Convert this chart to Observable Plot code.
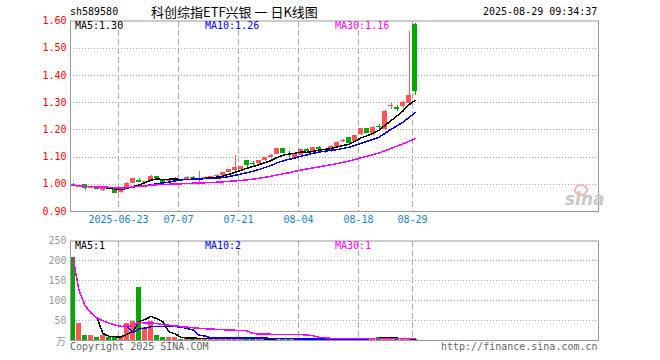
<!DOCTYPE html>
<html><head><meta charset="utf-8">
<script src="https://cdn.jsdelivr.net/npm/d3@7"></script>
<script src="https://cdn.jsdelivr.net/npm/@observablehq/plot@0.6"></script>
<style>
body{margin:0;background:#fff;}
#wrap{position:relative;width:660px;height:360px;overflow:hidden;font-family:"DejaVu Sans Mono",monospace;}
#wrap svg{position:absolute;left:0;}
#wrap svg g[aria-label="line"] path, #wrap svg g[aria-label="rule"] line, #wrap svg g[aria-label="rect"] rect, #wrap svg g[aria-label="frame"] rect{shape-rendering:crispEdges;}
.t{position:absolute;white-space:nowrap;font-size:10px;line-height:10px;font-family:"DejaVu Sans Mono",monospace;}
</style></head><body><div id="wrap"></div>
<script>
const dates = ["2025-06-11","2025-06-12","2025-06-13","2025-06-16","2025-06-17","2025-06-18","2025-06-19","2025-06-20","2025-06-23","2025-06-24",
"2025-06-25","2025-06-26","2025-06-27","2025-06-30","2025-07-01","2025-07-02","2025-07-03","2025-07-04","2025-07-07","2025-07-08",
"2025-07-09","2025-07-10","2025-07-11","2025-07-14","2025-07-15","2025-07-16","2025-07-17","2025-07-18","2025-07-21","2025-07-22",
"2025-07-23","2025-07-24","2025-07-25","2025-07-28","2025-07-29","2025-07-30","2025-07-31","2025-08-01","2025-08-04","2025-08-05",
"2025-08-06","2025-08-07","2025-08-08","2025-08-11","2025-08-12","2025-08-13","2025-08-14","2025-08-15","2025-08-18","2025-08-19",
"2025-08-20","2025-08-21","2025-08-22","2025-08-25","2025-08-26","2025-08-27","2025-08-28","2025-08-29"];
const open = [0.998,0.990,0.998,0.986,0.987,0.979,0.986,0.983,0.971,0.982,
1.004,1.014,1.006,1.012,1.027,1.018,1.012,1.016,1.015,1.014,
1.026,1.016,1.023,1.025,1.030,1.034,1.044,1.049,1.053,1.086,
1.076,1.076,1.087,1.100,1.110,1.130,1.111,1.096,1.104,1.126,
1.122,1.134,1.124,1.124,1.136,1.158,1.171,1.158,1.183,1.205,
1.184,1.213,1.203,1.286,1.281,1.286,1.298,1.588];
const close = [0.997,0.994,0.987,0.990,0.984,0.986,0.985,0.970,0.980,1.004,
1.022,1.012,1.010,1.030,1.024,1.012,1.016,1.017,1.014,1.026,
1.024,1.019,1.026,1.028,1.034,1.044,1.053,1.061,1.065,1.073,
1.075,1.086,1.097,1.104,1.130,1.116,1.110,1.111,1.126,1.124,
1.134,1.132,1.126,1.140,1.154,1.161,1.155,1.178,1.205,1.190,
1.210,1.211,1.268,1.289,1.278,1.300,1.328,1.343];
const high = [1.002,0.996,0.999,0.991,0.988,0.987,0.989,0.984,0.981,1.005,
1.023,1.022,1.012,1.031,1.028,1.019,1.018,1.025,1.017,1.027,
1.030,1.046,1.028,1.030,1.036,1.045,1.054,1.105,1.067,1.087,
1.082,1.087,1.099,1.108,1.132,1.132,1.120,1.114,1.128,1.130,
1.136,1.140,1.133,1.141,1.156,1.166,1.173,1.181,1.206,1.206,
1.214,1.220,1.271,1.298,1.290,1.306,1.561,1.590];
const low = [0.994,0.988,0.979,0.983,0.982,0.974,0.982,0.968,0.966,0.980,
1.003,1.005,1.004,1.010,1.022,1.010,1.010,1.011,1.010,1.013,
1.018,1.004,1.020,1.021,1.027,1.032,1.042,1.047,1.050,1.059,
1.063,1.074,1.083,1.096,1.108,1.114,1.100,1.093,1.100,1.120,
1.108,1.124,1.114,1.116,1.132,1.154,1.151,1.153,1.181,1.187,
1.181,1.200,1.197,1.275,1.268,1.278,1.290,1.328];
const volume = [208,43,12.5,12.5,7,12.5,8,8,8,43,
47,133,32,48,12.5,7.5,8,8,2.5,7,
4,6,6,7,8,8,6,8,5,4,
3,5,4,4,6,5,3,4,5,3,
4,3,3,4,5,4,6,5,5,4,
6,8,7.5,4,3,4,4,3];
const dateTickLabels = ["2025-06-23","07-07","07-21","08-04","08-18","08-29"];
const priceTicks = [0.90,1.00,1.10,1.20,1.30,1.40,1.50,1.60];
const volTicks = [50,100,150,200,250];
const priceMALabels = ["MA5:1.30","MA10:1.26","MA30:1.16"];
const volMALabels = ["MA5:1","MA10:2","MA30:1"];
const titleCode = "sh589580";
const titleName = "科创综指ETF兴银 一 日K线图";
const titleTime = "2025-08-29 09:34:37";

const RED = "#ff5555", GREEN = "#00a800", GRID = "#aaaaaa", FRAME = "#999999";
const FONT = "DejaVu Sans Mono";
const rows = dates.map((d,i)=>({i, d, o:open[i], c:close[i], h:high[i], l:low[i], v:volume[i], up: close[i] > open[i]}));
const tickRows = dateTickLabels.map(lab => {
  const full = lab.length > 5 ? lab : "2025-" + lab;
  return {i: dates.indexOf(full), label: lab};
});
const HW = 0.4167;
const xScale = {type:"linear", domain:[-HW, 87 + 1 - HW], axis:null};
const up = d => d.up, dn = d => !d.up;

function candleMarks() {
  return [
    Plot.ruleX(rows, {filter: up, x:"i", y1:"l", y2:"h", stroke: RED}),
    Plot.ruleX(rows, {filter: dn, x:"i", y1:"l", y2:"h", stroke: GREEN}),
    Plot.rect(rows, {filter: up, x1: d=>d.i-HW, x2: d=>d.i+HW, y1:"o", y2:"c", fill: RED}),
    Plot.rect(rows, {filter: dn, x1: d=>d.i-HW, x2: d=>d.i+HW, y1:"o", y2:"c", fill: GREEN}),
    Plot.ruleY(rows, {filter: up, y:"c", x1: d=>d.i-HW, x2: d=>d.i+HW, stroke: RED}),
    Plot.ruleY(rows, {filter: dn, y:"c", x1: d=>d.i-HW, x2: d=>d.i+HW, stroke: GREEN})
  ];
}

const price = Plot.plot({
  width: 660, height: 232, marginLeft: 70, marginRight: 62, marginTop: 20.5, marginBottom: 21,
  x: xScale,
  y: {domain:[0.9,1.6], axis:null},
  style: {background:"transparent", overflow:"visible", fontFamily: FONT, fontSize:"10px"},
  marks: [
    Plot.ruleY(priceTicks.slice(1,-1), {stroke: GRID, strokeDasharray:"1,2"}),
    Plot.ruleX(tickRows, {x: d=>d.i-HW, stroke: GRID, strokeDasharray:"6,3"}),
    Plot.text(priceTicks, {y: d=>d, frameAnchor:"left", textAnchor:"end", dx:-4, text: d=>d.toFixed(2), fill:"#ff0000", fontSize:10}),
    Plot.text(tickRows, {x: d=>d.i-HW, frameAnchor:"bottom", dy: 11, text:"label", fill:"#1a7fd4", fontSize:10}),
    ...candleMarks(),
    Plot.lineY(rows, Plot.windowY({k:5, anchor:"end", strict:true, reduce:"mean"}, {x:"i", y:"c", stroke:"#000"})),
    Plot.lineY(rows, Plot.windowY({k:10, anchor:"end", strict:true, reduce:"mean"}, {x:"i", y:"c", stroke:"#0000ff"})),
    Plot.lineY(rows, Plot.windowY({k:30, anchor:"end", strict:false, reduce:"mean"}, {x:"i", y:"c", stroke:"#ff00ff"})),
    Plot.frame({stroke: FRAME})
  ]
});

const vol = Plot.plot({
  width: 660, height: 128, marginLeft: 70, marginRight: 62, marginTop: 8.5, marginBottom: 20,
  x: xScale,
  y: {domain:[0,250], axis:null},
  style: {background:"transparent", overflow:"visible", fontFamily: FONT, fontSize:"10px"},
  marks: [
    Plot.ruleY(volTicks.slice(0,-1), {stroke: GRID, strokeDasharray:"1,2"}),
    Plot.ruleX(tickRows, {x: d=>d.i-HW, stroke: GRID, strokeDasharray:"6,3"}),
    Plot.text(volTicks, {y: d=>d, frameAnchor:"left", textAnchor:"end", dx:-4, text: d=>String(d), fill:"#999", fontSize:10}),
    Plot.rect(rows, {filter: up, x1: d=>d.i-HW, x2: d=>d.i+HW, y1: 0, y2:"v", fill: RED}),
    Plot.rect(rows, {filter: dn, x1: d=>d.i-HW, x2: d=>d.i+HW, y1: 0, y2:"v", fill: GREEN}),
    Plot.lineY(rows, Plot.windowY({k:5, anchor:"end", strict:true, reduce:"mean"}, {x:"i", y:"v", stroke:"#000"})),
    Plot.lineY(rows, Plot.windowY({k:10, anchor:"end", strict:true, reduce:"mean"}, {x:"i", y:"v", stroke:"#0000ff"})),
    Plot.lineY(rows, Plot.windowY({k:30, anchor:"end", strict:false, reduce:"mean"}, {x:"i", y:"v", stroke:"#ff00ff"})),
    Plot.frame({stroke: FRAME})
  ]
});

const wrap = document.getElementById("wrap");
price.style.top = "0px";
vol.style.top = "232px";
wrap.appendChild(price);
wrap.appendChild(vol);

function addText(txt, left, top, color, extra) {
  const el = document.createElement("div");
  el.className = "t";
  el.textContent = txt;
  el.style.left = left + "px";
  el.style.top = top + "px";
  el.style.color = color;
  if (extra) Object.assign(el.style, extra);
  wrap.appendChild(el);
  return el;
}
addText(titleCode, 70, 7, "#000");
addText(titleName, 151, 5, "#000", {fontFamily:"'Noto Sans CJK SC'", fontSize:"13px", lineHeight:"14px"});
addText(titleTime, 483, 7, "#000");
const maCols = ["#000","#0000ff","#ff00ff"];
const maX = [75,205,335];
priceMALabels.forEach((s,k)=>addText(s, maX[k], 21, maCols[k]));
volMALabels.forEach((s,k)=>addText(s, maX[k], 241, maCols[k]));
addText("万", 56, 336, "#999", {fontFamily:"'Noto Sans CJK SC'", fontSize:"10px"});
addText("Copyright 2025 SINA.COM", 70, 342, "#666");
addText("http://finance.sina.com.cn", 441, 342, "#666");
addText("sina", 565, 191, "#c8c8c8", {fontFamily:"'DejaVu Sans'", fontSize:"17px", fontStyle:"italic", fontWeight:"bold", lineHeight:"17px"});
const eye = document.createElement("div");
Object.assign(eye.style, {position:"absolute", left:"574px", top:"184px", width:"10px", height:"8px", borderRadius:"50%", border:"2px solid #f4b4b4"});
wrap.appendChild(eye);
</script></body></html>
